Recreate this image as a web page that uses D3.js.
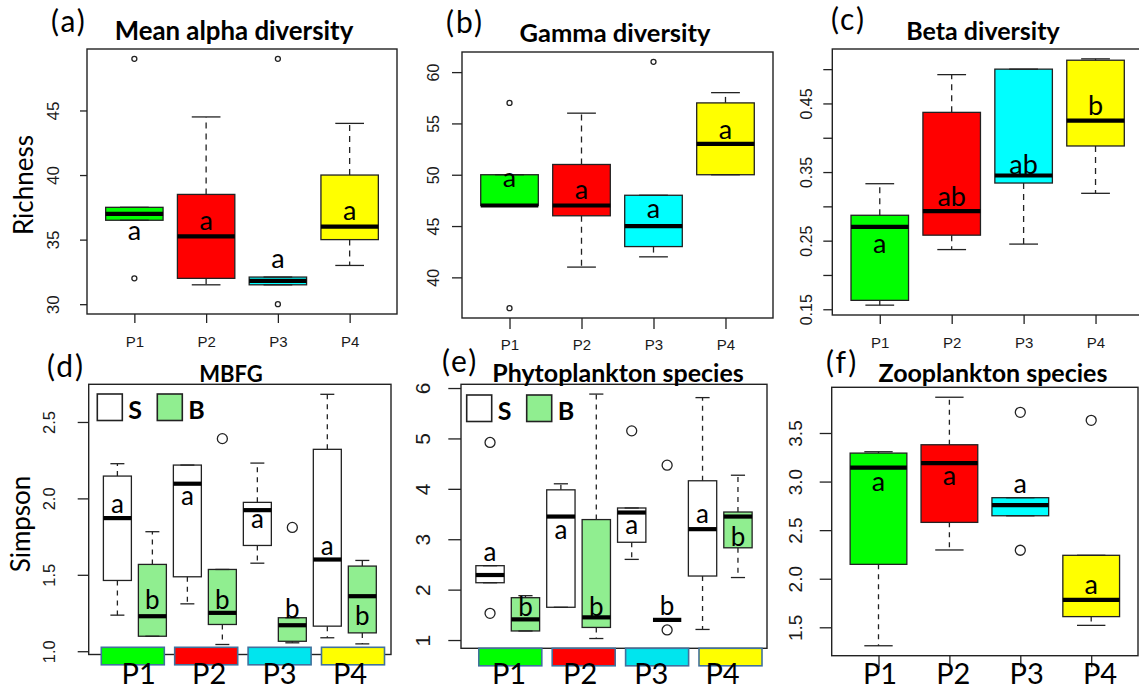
<!DOCTYPE html>
<html>
<head>
<meta charset="utf-8">
<script src="https://cdn.jsdelivr.net/npm/d3@7"></script>
<style>
  html, body { margin: 0; padding: 0; background: #ffffff; }
  svg { display: block; }
</style>
</head>
<body>
<svg id="fig" width="1139" height="691"></svg>
<script>
// ---------------------------------------------------------------
// Data: each box is [lower whisker, Q1, median, Q3, upper whisker]
// ---------------------------------------------------------------
const sites = ["P1", "P2", "P3", "P4"];
const siteColors = ["#00ff00", "#ff0000", "#00ffff", "#ffff00"];
const stripColors = ["#00ff00", "#ff0000", "#00e5ee", "#ffff00"];
const groupNames = ["S", "B"];
const groupFills = ["#ffffff", "#90ee90"];

// (a) Mean alpha diversity (richness)
const alphaStats = [
  [36.5, 36.5, 37.0, 37.5, 37.5],
  [31.5, 32.0, 35.25, 38.5, 44.5],
  [31.5, 31.5, 31.8, 32.1, 32.1],
  [33.0, 35.0, 36.0, 40.0, 44.0]
];
const alphaOutliers = [[49, 32], [], [49, 30], []];
const alphaLetters = ["a", "a", "a", "a"];
const alphaLetterAt = [35.5, 36.3, 33.3, 37.05];
const alphaTicks = [30, 35, 40, 45];
const alphaTickLabels = ["30", "35", "40", "45"];

// (b) Gamma diversity
const gammaStats = [
  [47, 47, 47, 50, 50],
  [41, 46, 47, 51, 56],
  [42, 43, 45, 48, 48],
  [50, 50, 53, 57, 58]
];
const gammaOutliers = [[57, 37], [], [61], []];
const gammaLetters = ["a", "a", "a", "a"];
const gammaLetterAt = [49.5, 48.3, 46.4, 54.1];
const gammaTicks = [40, 45, 50, 55, 60];
const gammaTickLabels = ["40", "45", "50", "55", "60"];

// (c) Beta diversity
const betaStats = [
  [0.156, 0.163, 0.270, 0.287, 0.333],
  [0.237, 0.258, 0.293, 0.437, 0.492],
  [0.245, 0.334, 0.345, 0.500, 0.500],
  [0.319, 0.388, 0.425, 0.513, 0.515]
];
const betaOutliers = [[], [], [], []];
const betaLetters = ["a", "ab", "ab", "b"];
const betaLetterAt = [0.242, 0.314, 0.361, 0.447];
const betaTicks = [0.15, 0.20, 0.25, 0.30, 0.35, 0.40, 0.45, 0.50];
const betaTickLabels = ["0.15", "", "0.25", "", "0.35", "", "0.45", ""];

// (d) MBFG, Simpson index, S and B per site
const mbfgS = [
  [1.236, 1.463, 1.871, 2.146, 2.227],
  [1.310, 1.487, 2.096, 2.218, 2.218],
  [1.576, 1.692, 1.923, 1.974, 2.231],
  [1.088, 1.164, 1.600, 2.321, 2.681]
];
const mbfgSOutliers = [[], [], [], []];
const mbfgB = [
  [1.098, 1.098, 1.229, 1.568, 1.782],
  [1.044, 1.175, 1.251, 1.535, 1.535],
  [1.055, 1.065, 1.170, 1.219, 1.219],
  [1.048, 1.120, 1.360, 1.557, 1.594]
];
const mbfgBOutliers = [[], [2.391], [1.81], []];
const mbfgSLetters = ["a", "a", "a", "a"];
const mbfgSLetterAt = [1.95, 2.0, 1.85, 1.67];
const mbfgBLetters = ["b", "b", "b", "b"];
const mbfgBLetterAt = [1.34, 1.34, 1.28, 1.234];
const mbfgTicks = [1.0, 1.5, 2.0, 2.5];
const mbfgTickLabels = ["1.0", "1.5", "2.0", "2.5"];

// (e) Phytoplankton species, Simpson index, S and B per site
const phytoS = [
  [2.137, 2.137, 2.29, 2.475, 2.475],
  [1.65, 1.65, 3.45, 3.98, 4.10],
  [2.60, 2.94, 3.53, 3.62, 3.62],
  [1.21, 2.27, 3.20, 4.16, 5.81]
];
const phytoSOutliers = [[4.92, 1.53], [], [5.15], []];
const phytoB = [
  [1.18, 1.18, 1.41, 1.84, 1.88],
  [1.03, 1.25, 1.45, 3.39, 5.88],
  [1.40, 1.40, 1.40, 1.40, 1.40],
  [2.24, 2.83, 3.45, 3.54, 4.27]
];
const phytoBOutliers = [[], [], [1.2, 4.47], []];
const phytoSLetters = ["a", "a", "a", "a"];
const phytoSLetterAt = [2.69, 3.14, 3.23, 3.45];
const phytoBLetters = ["b", "b", "b", "b"];
const phytoBLetterAt = [1.66, 1.67, 1.69, 3.06];
const phytoTicks = [1, 2, 3, 4, 5, 6];
const phytoTickLabels = ["1", "2", "3", "4", "5", "6"];

// (f) Zooplankton species
const zooStats = [
  [1.31, 2.148, 3.144, 3.293, 3.307],
  [2.296, 2.58, 3.19, 3.379, 3.868],
  [2.648, 2.648, 2.758, 2.834, 2.834],
  [1.52, 1.61, 1.783, 2.241, 2.241]
];
const zooOutliers = [[], [], [3.713, 2.293], [3.63]];
const zooLetters = ["a", "a", "a", "a"];
const zooLetterAt = [2.976, 3.035, 2.948, 1.91];
const zooTicks = [1.5, 2.0, 2.5, 3.0, 3.5];
const zooTickLabels = ["1.5", "2.0", "2.5", "3.0", "3.5"];

// ---------------------------------------------------------------
// Drawing
// ---------------------------------------------------------------
const svg = d3.select("#fig");
const INK = "#222222";
const SANS = "'Liberation Sans', Arial, sans-serif";
const HUMAN = "Lato, 'Open Sans', sans-serif";

function siteBoxes(stats, outliers, letters, letterAt) {
  return stats.map((s, i) => ({
    stats: s, out: outliers[i], fill: siteColors[i],
    letter: letters[i], letterAt: letterAt[i]
  }));
}

function pairedBoxes(sStats, sOut, sLet, sAt, bStats, bOut, bLet, bAt) {
  const boxes = [];
  sites.forEach((_, i) => {
    boxes.push({ stats: sStats[i], out: sOut[i], fill: groupFills[0], letter: sLet[i], letterAt: sAt[i] });
    boxes.push({ stats: bStats[i], out: bOut[i], fill: groupFills[1], letter: bLet[i], letterAt: bAt[i] });
  });
  return boxes;
}

function drawPanel(p) {
  const g = svg.append("g");
  const n = p.boxes.length;
  const x = d3.scaleLinear()
    .domain([0.5 - 0.04 * n, n + 0.5 + 0.04 * n])
    .range([p.left, p.right]);
  const vals = p.boxes.flatMap(b => b.stats.concat(b.out));
  const [lo, hi] = d3.extent(vals);
  const pad = (hi - lo) * 0.04;
  const y = d3.scaleLinear().domain([lo - pad, hi + pad]).range([p.bottom, p.top]);
  const bw = (x(1) - x(0)) * 0.8;

  p.boxes.forEach((b, i) => {
    const cx = x(i + 1);
    const [wl, q1, md, q3, wh] = b.stats;
    const bg = g.append("g");
    // box body
    bg.append("rect")
      .attr("x", cx - bw / 2).attr("width", bw)
      .attr("y", y(q3)).attr("height", Math.max(0, y(q1) - y(q3)))
      .attr("fill", b.fill).attr("stroke", INK).attr("stroke-width", 1.3);
    // dashed whiskers and their caps
    [[q1, wl], [q3, wh]].forEach(([a, z]) => {
      if (a !== z) {
        bg.append("line")
          .attr("x1", cx).attr("x2", cx).attr("y1", y(a)).attr("y2", y(z))
          .attr("stroke", INK).attr("stroke-width", 1.3)
          .attr("stroke-dasharray", p.dash);
      }
      bg.append("line")
        .attr("x1", cx - bw / 4).attr("x2", cx + bw / 4)
        .attr("y1", y(z)).attr("y2", y(z))
        .attr("stroke", INK).attr("stroke-width", 1.3);
    });
    // median
    bg.append("line")
      .attr("x1", cx - bw / 2).attr("x2", cx + bw / 2)
      .attr("y1", y(md)).attr("y2", y(md))
      .attr("stroke", "#000").attr("stroke-width", 4.2);
    // outliers
    b.out.forEach(v => {
      bg.append("circle").attr("cx", cx).attr("cy", y(v)).attr("r", p.outR)
        .attr("fill", "none").attr("stroke", INK).attr("stroke-width", 1.3);
    });
    // significance letter
    const base = b.letter.includes("b") ? 0.36 : 0.25;
    g.append("text")
      .attr("x", cx).attr("y", y(b.letterAt) + base * p.letterSize)
      .attr("text-anchor", "middle")
      .attr("font-family", HUMAN).attr("font-size", p.letterSize)
      .attr("fill", "#000").text(b.letter);
  });

  // frame
  g.append("rect")
    .attr("x", p.left).attr("y", p.top)
    .attr("width", p.right - p.left).attr("height", p.bottom - p.top)
    .attr("fill", "none").attr("stroke", INK).attr("stroke-width", 1.4);

  // y axis with rotated tick labels
  const ya = g.append("g")
    .attr("transform", `translate(${p.left},0)`)
    .call(d3.axisLeft(y).tickValues(p.yTicks).tickSize(p.yTickLen)
      .tickFormat((d, i) => p.yTickLabels[i]));
  ya.select(".domain").remove();
  ya.selectAll("line").attr("stroke", INK).attr("stroke-width", 1.3);
  ya.selectAll("text")
    .attr("x", null).attr("dy", null)
    .attr("transform", `translate(${-p.yLabOff},0) rotate(-90)`)
    .attr("text-anchor", "middle")
    .attr("font-family", SANS).attr("font-size", p.yTickSize)
    .attr("fill", "#1a1a1a");

  // x axis
  if (p.xTicks) {
    const xa = g.append("g")
      .attr("transform", `translate(0,${p.bottom})`)
      .call(d3.axisBottom(x).tickValues([1, 2, 3, 4]).tickSize(p.xTickLen)
        .tickFormat((d, i) => p.xTickLabels ? sites[i] : ""));
    xa.select(".domain").remove();
    xa.selectAll("line").attr("stroke", INK).attr("stroke-width", 1.3);
    xa.selectAll("text")
      .attr("dy", null).attr("y", p.xLabOff)
      .attr("font-family", SANS).attr("font-size", 15).attr("fill", "#1a1a1a");
  }
  return { x, y };
}

function panelText(tag, tagX, tagY, title, titleX, titleY, titleSize) {
  svg.append("text").attr("x", tagX).attr("y", tagY)
    .attr("font-family", HUMAN).attr("font-size", 30)
    .attr("letter-spacing", 2).attr("fill", "#000")
    .text(tag);
  svg.append("text").attr("x", titleX).attr("y", titleY)
    .attr("text-anchor", "middle")
    .attr("font-family", HUMAN).attr("font-weight", 700)
    .attr("font-size", titleSize).attr("fill", "#000")
    .text(title);
}

function yTitle(label, cx, cy) {
  svg.append("text")
    .attr("transform", `translate(${cx},${cy}) rotate(-90)`)
    .attr("text-anchor", "middle")
    .attr("font-family", HUMAN).attr("font-size", 26).attr("fill", "#000")
    .text(label);
}

function legend(x0, y0) {
  groupNames.forEach((name, i) => {
    const gx = x0 + i * 60;
    svg.append("rect").attr("x", gx).attr("y", y0).attr("width", 25).attr("height", 26.5)
      .attr("fill", groupFills[i]).attr("stroke", INK).attr("stroke-width", 1.6);
    svg.append("text").attr("x", gx + 31).attr("y", y0 + 24.5)
      .attr("font-family", HUMAN).attr("font-weight", 700).attr("font-size", 25)
      .attr("fill", "#000").text(name);
  });
}

function siteStrip(xRange, top, labelRange) {
  const sx = d3.scalePoint().domain(sites).range(xRange);
  const lx = d3.scalePoint().domain(sites).range(labelRange);
  sites.forEach((s, i) => {
    svg.append("rect").attr("x", sx(s) - 31.5).attr("y", top)
      .attr("width", 63).attr("height", 17.5)
      .attr("fill", stripColors[i]).attr("stroke", "#41719c").attr("stroke-width", 1.6);
  });
  siteLabels(lx);
}

function siteLabels(lx) {
  sites.forEach(s => {
    svg.append("text").attr("x", lx(s)).attr("y", 684)
      .attr("text-anchor", "middle")
      .attr("font-family", HUMAN).attr("font-size", 29).attr("fill", "#000")
      .text(s);
  });
}

// (a)
drawPanel({
  left: 87, right: 397, top: 49, bottom: 314,
  boxes: siteBoxes(alphaStats, alphaOutliers, alphaLetters, alphaLetterAt),
  yTicks: alphaTicks, yTickLabels: alphaTickLabels, yTickLen: 7, yLabOff: 27.6, yTickSize: 17,
  xTicks: true, xTickLabels: true, xTickLen: 9, xLabOff: 33,
  outR: 2.5, dash: "6,5", letterSize: 27
});
panelText("(a)", 51, 32, "Mean alpha diversity", 234, 40, 25.8);
yTitle("Richness", 33, 185);

// (b)
drawPanel({
  left: 462, right: 773, top: 52, bottom: 318,
  boxes: siteBoxes(gammaStats, gammaOutliers, gammaLetters, gammaLetterAt),
  yTicks: gammaTicks, yTickLabels: gammaTickLabels, yTickLen: 10, yLabOff: 23, yTickSize: 16,
  xTicks: true, xTickLabels: true, xTickLen: 11, xLabOff: 32,
  outR: 2.5, dash: "6,5", letterSize: 27
});
panelText("(b)", 446, 33, "Gamma diversity", 615, 42, 25.5);

// (c)
drawPanel({
  left: 832.3, right: 1143, top: 49, bottom: 315,
  boxes: siteBoxes(betaStats, betaOutliers, betaLetters, betaLetterAt),
  yTicks: betaTicks, yTickLabels: betaTickLabels, yTickLen: 9, yLabOff: 20, yTickSize: 16,
  xTicks: true, xTickLabels: true, xTickLen: 9, xLabOff: 32.5,
  outR: 2.5, dash: "6,5", letterSize: 27
});
panelText("(c)", 831, 30, "Beta diversity", 983, 40, 25);

// (d)
drawPanel({
  left: 88.7, right: 391, top: 384.3, bottom: 654.5,
  boxes: pairedBoxes(mbfgS, mbfgSOutliers, mbfgSLetters, mbfgSLetterAt,
                     mbfgB, mbfgBOutliers, mbfgBLetters, mbfgBLetterAt),
  yTicks: mbfgTicks, yTickLabels: mbfgTickLabels, yTickLen: 11, yLabOff: 33.4, yTickSize: 16.5,
  xTicks: false,
  outR: 5, dash: "5,5", letterSize: 26
});
panelText("(d)", 47, 377, "MBFG", 231, 382, 22);
yTitle("Simpson", 29.5, 524);
legend(97.3, 394);
siteStrip([132.8, 353], 647.3, [138.7, 350]);

// (e)
drawPanel({
  left: 461, right: 767, top: 384.3, bottom: 648.3,
  boxes: pairedBoxes(phytoS, phytoSOutliers, phytoSLetters, phytoSLetterAt,
                     phytoB, phytoBOutliers, phytoBLetters, phytoBLetterAt),
  yTicks: phytoTicks, yTickLabels: phytoTickLabels, yTickLen: 12.7, yLabOff: 30.7, yTickSize: 21,
  xTicks: false,
  outR: 5, dash: "5,5", letterSize: 26
});
panelText("(e)", 442, 372, "Phytoplankton species", 618, 381.7, 25);
legend(466.7, 395);
siteStrip([510.3, 730.5], 648.3, [509, 722.5]);

// (f)
drawPanel({
  left: 831.7, right: 1138, top: 387.3, bottom: 655.7,
  boxes: siteBoxes(zooStats, zooOutliers, zooLetters, zooLetterAt),
  yTicks: zooTicks, yTickLabels: zooTickLabels, yTickLen: 12, yLabOff: 29.8, yTickSize: 19,
  xTicks: true, xTickLabels: false, xTickLen: 11.5, xLabOff: 0,
  outR: 5, dash: "5,5", letterSize: 27
});
panelText("(f)", 826, 373, "Zooplankton species", 993, 381.7, 25);
siteLabels(d3.scalePoint().domain(sites).range([880, 1100]));
</script>
</body>
</html>
